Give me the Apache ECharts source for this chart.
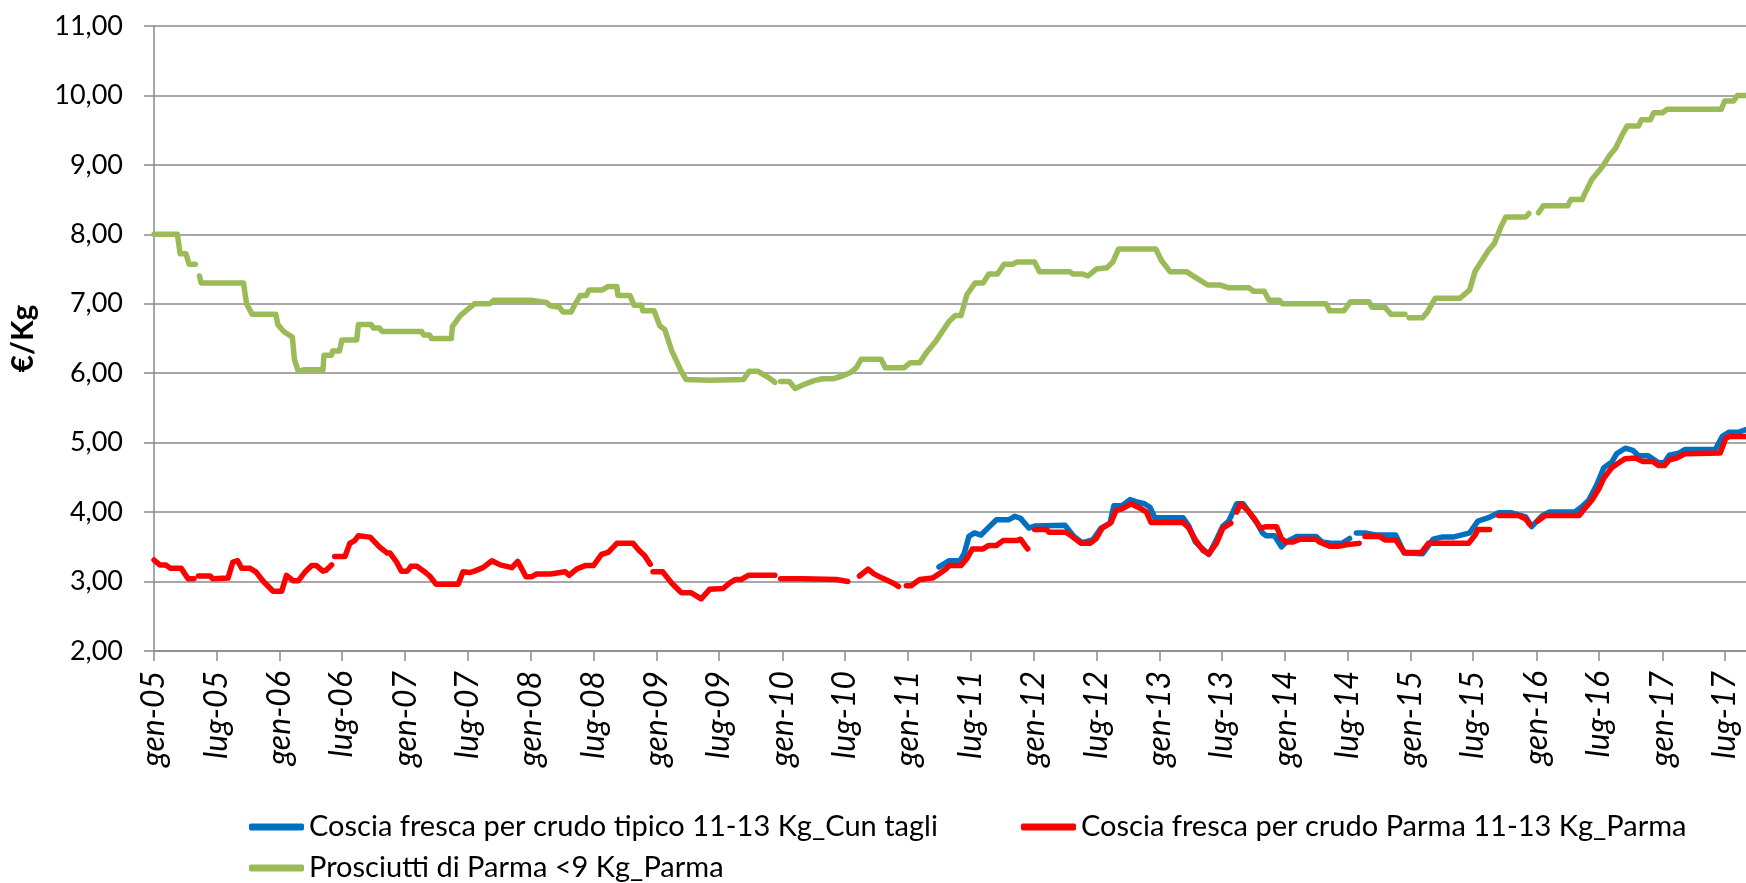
<!DOCTYPE html>
<html>
<head>
<meta charset="utf-8">
<title>Prezzi cosce e prosciutti</title>
<script src="https://cdn.jsdelivr.net/npm/echarts@6/dist/echarts.min.js"></script>
<style>
  html, body { margin: 0; padding: 0; background: #fff; }
  #chart { width: 1746px; height: 883px; }
</style>
</head>
<body>
<div id="chart"></div>
<script>
// nomi delle serie
const nameCun = "Coscia fresca per crudo tipico 11-13 Kg_Cun tagli";
const nameParma = "Coscia fresca per crudo Parma 11-13 Kg_Parma";
const nameProsc = "Prosciutti di Parma <9 Kg_Parma";

// tick dell'asse x (gen / lug di ogni anno)
const tickDates = [
  "2005-01-01", "2005-07-01", "2006-01-01", "2006-07-01", "2007-01-01", "2007-07-01",
  "2008-01-01", "2008-07-01", "2009-01-01", "2009-07-01", "2010-01-01", "2010-07-01",
  "2011-01-01", "2011-07-01", "2012-01-01", "2012-07-01", "2013-01-01", "2013-07-01",
  "2014-01-01", "2014-07-01", "2015-01-01", "2015-07-01", "2016-01-01", "2016-07-01",
  "2017-01-01", "2017-07-01"
];
const tickLabels = [
  "gen-05", "lug-05", "gen-06", "lug-06", "gen-07", "lug-07",
  "gen-08", "lug-08", "gen-09", "lug-09", "gen-10", "lug-10",
  "gen-11", "lug-11", "gen-12", "lug-12", "gen-13", "lug-13",
  "gen-14", "lug-14", "gen-15", "lug-15", "gen-16", "lug-16",
  "gen-17", "lug-17"
];

// Coscia fresca Cun tagli (€/Kg)
const cunData = [
  ["2011-04-01", 3.21], ["2011-05-01", 3.30], ["2011-06-01", 3.30], ["2011-06-13", 3.40],
  ["2011-06-27", 3.65], ["2011-07-13", 3.70], ["2011-08-01", 3.67], ["2011-08-21", 3.77],
  ["2011-09-15", 3.89], ["2011-10-21", 3.89], ["2011-11-07", 3.94], ["2011-11-24", 3.91],
  ["2011-12-18", 3.77], ["2012-01-04", 3.80], ["2012-04-01", 3.81], ["2012-04-27", 3.65],
  ["2012-05-21", 3.56], ["2012-06-21", 3.60], ["2012-07-15", 3.77], ["2012-08-10", 3.84],
  ["2012-08-21", 4.09], ["2012-09-13", 4.09], ["2012-10-07", 4.18], ["2012-10-24", 4.15],
  ["2012-11-18", 4.12], ["2012-12-04", 4.07], ["2012-12-18", 3.92], ["2013-03-10", 3.92],
  ["2013-03-27", 3.80], ["2013-04-15", 3.57], ["2013-05-07", 3.47], ["2013-05-24", 3.39],
  ["2013-06-15", 3.60], ["2013-07-04", 3.80], ["2013-07-21", 3.87], ["2013-08-13", 4.12],
  ["2013-09-01", 4.12], ["2013-09-18", 4.00], ["2013-10-10", 3.85], ["2013-10-27", 3.70],
  ["2013-11-07", 3.66], ["2013-12-01", 3.66], ["2013-12-21", 3.50], ["2014-01-04", 3.57],
  ["2014-02-04", 3.65], ["2014-04-01", 3.65], ["2014-04-18", 3.57], ["2014-05-18", 3.55],
  ["2014-06-15", 3.55], ["2014-07-07", 3.62], ["2014-07-18", null], ["2014-07-27", 3.70],
  ["2014-08-21", 3.70], ["2014-09-21", 3.67], ["2014-11-18", 3.67], ["2014-12-13", 3.41],
  ["2015-02-04", 3.40], ["2015-03-07", 3.61], ["2015-04-01", 3.64], ["2015-05-04", 3.64],
  ["2015-06-21", 3.70], ["2015-07-15", 3.87], ["2015-08-15", 3.92], ["2015-09-13", 3.99],
  ["2015-10-21", 3.99], ["2015-11-10", 3.96], ["2015-12-01", 3.93], ["2015-12-18", 3.79],
  ["2016-01-18", 3.95], ["2016-02-07", 4.00], ["2016-04-21", 4.00], ["2016-05-13", 4.08],
  ["2016-06-01", 4.17], ["2016-06-24", 4.39], ["2016-07-15", 4.64], ["2016-08-07", 4.72],
  ["2016-08-21", 4.84], ["2016-09-15", 4.92], ["2016-10-07", 4.89], ["2016-10-24", 4.81],
  ["2016-11-21", 4.81], ["2016-12-21", 4.71], ["2017-01-07", 4.71], ["2017-01-21", 4.82],
  ["2017-02-18", 4.85], ["2017-03-07", 4.90], ["2017-06-04", 4.90], ["2017-06-24", 5.09],
  ["2017-07-13", 5.15], ["2017-08-10", 5.15], ["2017-09-01", 5.19]
];

// Coscia fresca Parma (€/Kg)
const parmaData = [
  ["2005-01-01", 3.31], ["2005-01-18", 3.24], ["2005-02-04", 3.24], ["2005-02-18", 3.19],
  ["2005-03-21", 3.19], ["2005-04-10", 3.04], ["2005-04-27", 3.04], ["2005-05-04", null],
  ["2005-05-10", 3.08], ["2005-06-13", 3.08], ["2005-06-21", 3.04], ["2005-08-04", 3.05],
  ["2005-08-18", 3.28], ["2005-09-01", 3.30], ["2005-09-13", 3.19], ["2005-10-07", 3.19],
  ["2005-10-24", 3.14], ["2005-11-15", 3.00], ["2005-12-13", 2.86], ["2006-01-07", 2.86],
  ["2006-01-21", 3.09], ["2006-02-10", 3.01], ["2006-02-24", 3.01], ["2006-03-18", 3.15],
  ["2006-04-04", 3.23], ["2006-04-18", 3.23], ["2006-05-07", 3.15], ["2006-05-15", 3.16],
  ["2006-06-01", 3.24], ["2006-06-05", null], ["2006-06-10", 3.36], ["2006-07-10", 3.36],
  ["2006-07-24", 3.55], ["2006-08-07", 3.59], ["2006-08-18", 3.66], ["2006-09-21", 3.64],
  ["2006-10-18", 3.50], ["2006-11-10", 3.41], ["2006-11-18", 3.41], ["2006-12-07", 3.28],
  ["2006-12-21", 3.15], ["2007-01-07", 3.15], ["2007-01-18", 3.22], ["2007-02-04", 3.22],
  ["2007-02-24", 3.15], ["2007-03-13", 3.08], ["2007-04-01", 2.96], ["2007-06-04", 2.96],
  ["2007-06-18", 3.14], ["2007-07-07", 3.13], ["2007-07-21", 3.15], ["2007-08-15", 3.20],
  ["2007-09-10", 3.30], ["2007-10-04", 3.24], ["2007-11-07", 3.20], ["2007-11-24", 3.29],
  ["2007-12-18", 3.07], ["2008-01-04", 3.07], ["2008-01-18", 3.11], ["2008-02-27", 3.11],
  ["2008-04-10", 3.14], ["2008-04-21", 3.09], ["2008-05-13", 3.18], ["2008-06-07", 3.23],
  ["2008-07-01", 3.23], ["2008-07-24", 3.39], ["2008-08-13", 3.42], ["2008-09-07", 3.55],
  ["2008-10-24", 3.55], ["2008-11-10", 3.45], ["2008-11-27", 3.37], ["2008-12-13", 3.25],
  ["2008-12-17", null], ["2008-12-21", 3.14], ["2009-01-18", 3.14], ["2009-02-13", 2.98],
  ["2009-03-13", 2.84], ["2009-04-10", 2.84], ["2009-05-10", 2.75], ["2009-06-04", 2.89],
  ["2009-07-13", 2.90], ["2009-08-01", 2.98], ["2009-08-18", 3.03], ["2009-09-04", 3.03],
  ["2009-09-24", 3.09], ["2009-12-10", 3.09], ["2009-12-20", null], ["2009-12-27", 3.04],
  ["2010-03-01", 3.04], ["2010-06-07", 3.03], ["2010-07-10", 3.00], ["2010-07-25", null],
  ["2010-08-13", 3.08], ["2010-09-07", 3.18], ["2010-09-24", 3.11], ["2010-10-18", 3.05],
  ["2010-11-18", 2.98], ["2010-12-04", 2.93], ["2010-12-15", null], ["2010-12-27", 2.94],
  ["2011-01-10", 2.94], ["2011-02-04", 3.03], ["2011-03-13", 3.05], ["2011-04-01", 3.11],
  ["2011-04-21", 3.18], ["2011-05-01", 3.23], ["2011-06-04", 3.23], ["2011-06-21", 3.33],
  ["2011-07-07", 3.47], ["2011-08-07", 3.47], ["2011-08-24", 3.52], ["2011-09-15", 3.52],
  ["2011-10-04", 3.59], ["2011-11-13", 3.59], ["2011-11-24", 3.61], ["2011-12-07", 3.52],
  ["2011-12-15", 3.47], ["2011-12-24", null], ["2012-01-04", 3.75], ["2012-02-07", 3.75],
  ["2012-02-15", 3.71], ["2012-04-04", 3.71], ["2012-04-24", 3.64], ["2012-05-18", 3.55],
  ["2012-06-13", 3.55], ["2012-07-01", 3.62], ["2012-07-18", 3.77], ["2012-08-13", 3.85],
  ["2012-08-27", 4.02], ["2012-09-15", 4.05], ["2012-10-10", 4.12], ["2012-11-04", 4.06],
  ["2012-11-24", 4.00], ["2012-12-07", 3.85], ["2013-03-10", 3.85], ["2013-03-27", 3.77],
  ["2013-04-15", 3.60], ["2013-05-07", 3.45], ["2013-05-24", 3.40], ["2013-06-15", 3.55],
  ["2013-07-04", 3.77], ["2013-07-27", 3.84], ["2013-08-02", null], ["2013-08-13", 4.00],
  ["2013-08-24", 4.12], ["2013-09-15", 4.02], ["2013-10-04", 3.90], ["2013-10-21", 3.77],
  ["2013-11-07", 3.79], ["2013-12-07", 3.79], ["2013-12-21", 3.62], ["2014-01-04", 3.57],
  ["2014-01-24", 3.57], ["2014-02-13", 3.61], ["2014-04-01", 3.61], ["2014-04-10", 3.57],
  ["2014-05-10", 3.51], ["2014-06-07", 3.51], ["2014-06-27", 3.53], ["2014-08-04", 3.55],
  ["2014-08-12", null], ["2014-08-21", 3.65], ["2014-10-01", 3.65], ["2014-10-18", 3.60],
  ["2014-11-18", 3.60], ["2014-12-13", 3.42], ["2015-02-01", 3.42], ["2015-02-21", 3.55],
  ["2015-06-18", 3.55], ["2015-07-07", 3.67], ["2015-07-15", 3.75], ["2015-08-18", 3.75],
  ["2015-09-01", null], ["2015-09-13", 3.95], ["2015-11-10", 3.95], ["2015-12-01", 3.90],
  ["2015-12-13", 3.82], ["2015-12-20", null], ["2016-01-04", 3.87], ["2016-01-27", 3.95],
  ["2016-05-04", 3.95], ["2016-05-15", 4.02], ["2016-06-10", 4.17], ["2016-07-01", 4.34],
  ["2016-07-15", 4.49], ["2016-08-07", 4.64], ["2016-08-21", 4.69], ["2016-09-15", 4.77],
  ["2016-10-15", 4.78], ["2016-11-04", 4.73], ["2016-12-04", 4.73], ["2016-12-21", 4.67],
  ["2017-01-07", 4.67], ["2017-01-21", 4.75], ["2017-02-13", 4.78], ["2017-03-07", 4.84],
  ["2017-06-18", 4.85], ["2017-07-04", 5.06], ["2017-07-15", 5.09], ["2017-09-01", 5.09]
];

// Prosciutti di Parma <9 Kg (€/Kg)
const proscData = [
  ["2005-01-01", 8.00], ["2005-03-10", 8.00], ["2005-03-18", 7.72], ["2005-04-04", 7.72],
  ["2005-04-13", 7.57], ["2005-05-01", 7.57], ["2005-05-06", null], ["2005-05-13", 7.40],
  ["2005-05-18", 7.30], ["2005-09-18", 7.30], ["2005-09-27", 7.00], ["2005-10-13", 6.85],
  ["2005-12-21", 6.85], ["2005-12-27", 6.70], ["2006-01-13", 6.60], ["2006-02-07", 6.52],
  ["2006-02-13", 6.20], ["2006-02-24", 6.03], ["2006-03-15", 6.05], ["2006-05-07", 6.05],
  ["2006-05-10", 6.26], ["2006-06-01", 6.26], ["2006-06-04", 6.32], ["2006-06-24", 6.32],
  ["2006-07-01", 6.48], ["2006-08-13", 6.48], ["2006-08-18", 6.70], ["2006-09-24", 6.70],
  ["2006-10-01", 6.65], ["2006-10-18", 6.65], ["2006-10-27", 6.60], ["2007-02-18", 6.60],
  ["2007-02-24", 6.55], ["2007-03-13", 6.55], ["2007-03-18", 6.50], ["2007-05-15", 6.50],
  ["2007-05-18", 6.67], ["2007-06-10", 6.83], ["2007-07-04", 6.93], ["2007-07-21", 7.00],
  ["2007-09-04", 7.00], ["2007-09-15", 7.05], ["2008-01-01", 7.05], ["2008-02-15", 7.02],
  ["2008-02-27", 6.97], ["2008-03-24", 6.95], ["2008-04-04", 6.88], ["2008-04-27", 6.88],
  ["2008-05-07", 6.98], ["2008-05-24", 7.12], ["2008-06-10", 7.12], ["2008-06-18", 7.20],
  ["2008-07-27", 7.20], ["2008-08-13", 7.25], ["2008-09-07", 7.25], ["2008-09-10", 7.12],
  ["2008-10-15", 7.12], ["2008-10-27", 6.98], ["2008-11-18", 6.98], ["2008-11-21", 6.90],
  ["2008-12-24", 6.90], ["2009-01-10", 6.68], ["2009-01-24", 6.63], ["2009-02-13", 6.33],
  ["2009-03-13", 6.03], ["2009-03-27", 5.91], ["2009-06-04", 5.90], ["2009-09-10", 5.91],
  ["2009-09-27", 6.03], ["2009-10-21", 6.03], ["2009-11-07", 5.98], ["2009-11-24", 5.93],
  ["2009-12-10", 5.87], ["2009-12-20", null], ["2009-12-27", 5.88], ["2010-01-21", 5.88],
  ["2010-02-07", 5.78], ["2010-03-01", 5.83], ["2010-04-01", 5.89], ["2010-04-27", 5.92],
  ["2010-05-27", 5.92], ["2010-06-24", 5.96], ["2010-07-18", 6.01], ["2010-08-04", 6.08],
  ["2010-08-18", 6.20], ["2010-10-15", 6.20], ["2010-10-27", 6.08], ["2010-12-21", 6.08],
  ["2011-01-07", 6.15], ["2011-02-04", 6.15], ["2011-02-24", 6.30], ["2011-03-21", 6.45],
  ["2011-05-01", 6.75], ["2011-05-18", 6.83], ["2011-06-04", 6.83], ["2011-06-21", 7.13],
  ["2011-07-15", 7.30], ["2011-08-07", 7.30], ["2011-08-24", 7.43], ["2011-09-18", 7.43],
  ["2011-10-07", 7.57], ["2011-11-01", 7.57], ["2011-11-13", 7.60], ["2012-01-04", 7.60],
  ["2012-01-18", 7.46], ["2012-04-15", 7.46], ["2012-04-24", 7.43], ["2012-05-21", 7.43],
  ["2012-06-07", 7.40], ["2012-07-01", 7.50], ["2012-08-01", 7.52], ["2012-08-18", 7.60],
  ["2012-09-04", 7.79], ["2012-12-21", 7.79], ["2013-01-07", 7.62], ["2013-02-01", 7.46],
  ["2013-03-21", 7.46], ["2013-04-15", 7.38], ["2013-05-21", 7.27], ["2013-06-27", 7.27],
  ["2013-07-21", 7.23], ["2013-09-18", 7.23], ["2013-10-01", 7.18], ["2013-11-01", 7.18],
  ["2013-11-15", 7.05], ["2013-12-15", 7.05], ["2013-12-24", 7.00], ["2014-04-30", 7.00],
  ["2014-05-10", 6.90], ["2014-06-21", 6.90], ["2014-07-10", 7.03], ["2014-09-01", 7.03],
  ["2014-09-10", 6.95], ["2014-10-18", 6.95], ["2014-11-04", 6.85], ["2014-12-15", 6.85],
  ["2014-12-22", null], ["2014-12-27", 6.80], ["2015-02-04", 6.80], ["2015-02-18", 6.88],
  ["2015-03-13", 7.08], ["2015-05-24", 7.08], ["2015-06-21", 7.20], ["2015-07-07", 7.47],
  ["2015-07-24", 7.60], ["2015-08-15", 7.77], ["2015-09-01", 7.87], ["2015-09-21", 8.12],
  ["2015-10-04", 8.25], ["2015-12-01", 8.25], ["2015-12-10", 8.30], ["2015-12-20", null],
  ["2016-01-07", 8.31], ["2016-01-21", 8.41], ["2016-04-01", 8.41], ["2016-04-10", 8.50],
  ["2016-05-13", 8.50], ["2016-05-21", 8.59], ["2016-06-10", 8.79], ["2016-07-10", 8.97],
  ["2016-08-01", 9.14], ["2016-08-18", 9.24], ["2016-09-07", 9.44], ["2016-09-21", 9.56],
  ["2016-10-24", 9.56], ["2016-11-01", 9.65], ["2016-11-27", 9.65], ["2016-12-07", 9.75],
  ["2017-01-01", 9.75], ["2017-01-15", 9.80], ["2017-06-21", 9.80], ["2017-07-01", 9.92],
  ["2017-07-27", 9.92], ["2017-08-07", 10.00], ["2017-09-01", 10.00]
];

const fontFamily = "Lato, 'Open Sans', sans-serif";
const gridColor = "#8a8a8a";

// data "AAAA-MM-GG" -> timestamp (ora locale)
function toTime(s) {
  const p = s.split("-");
  return new Date(+p[0], +p[1] - 1, +p[2]).getTime();
}
function toPoints(rows) {
  return rows.map(function (r) {
    return [toTime(r[0]), r[1]];
  });
}
const tickTimes = tickDates.map(toTime);

const chart = echarts.init(document.getElementById("chart"));

function lineSeries(name, color, rows) {
  return {
    name: name,
    type: "line",
    data: toPoints(rows),
    showSymbol: false,
    symbol: "none",
    connectNulls: false,
    lineStyle: { color: color, width: 5.5, cap: "round", join: "round" },
    itemStyle: { color: color },
  };
}

function legendFor(name, left, top) {
  return {
    data: [name],
    left: left,
    top: top,
    orient: "horizontal",
    selectedMode: false,
    icon: "roundRect",
    itemWidth: 55,
    itemHeight: 7,
    padding: 0,
    textStyle: { fontFamily: fontFamily, fontSize: 29, color: "#000", lineHeight: 34 },
  };
}

const option = {
  animation: false,
  backgroundColor: "#fff",
  grid: { left: 154, right: 0, top: 26, bottom: 232, containLabel: false },
  legend: [
    legendFor(nameCun, 249, 810),
    legendFor(nameParma, 1021, 810),
    legendFor(nameProsc, 249, 851),
  ],
  xAxis: {
    type: "value",
    min: toTime("2005-01-01"),
    max: toTime("2017-09-01"),
    axisLine: { show: true, lineStyle: { color: gridColor, width: 1.5 } },
    axisTick: { show: true, length: 10, customValues: tickTimes, lineStyle: { color: gridColor, width: 1.5 } },
    splitLine: { show: false },
    axisLabel: {
      customValues: tickTimes,
      rotate: 90,
      margin: 20,
      fontFamily: fontFamily,
      fontStyle: "italic",
      fontSize: 32,
      color: "#000",
      showMinLabel: true,
      showMaxLabel: true,
      formatter: function (value) {
        const i = tickTimes.indexOf(value);
        return i >= 0 ? tickLabels[i] : "";
      },
    },
  },
  yAxis: {
    type: "value",
    min: 2,
    max: 11,
    interval: 1,
    name: "€/Kg",
    nameLocation: "middle",
    nameRotate: 90,
    nameGap: 116,
    nameTextStyle: { fontFamily: fontFamily, fontSize: 30, fontWeight: "bold", color: "#000" },
    axisLine: { show: true, lineStyle: { color: gridColor, width: 1.5 } },
    axisTick: { show: true, length: 10, lineStyle: { color: gridColor, width: 1.5 } },
    splitLine: { show: true, lineStyle: { color: gridColor, width: 1.5 } },
    axisLabel: {
      margin: 31,
      fontFamily: fontFamily,
      fontSize: 27,
      color: "#000",
      formatter: function (v) {
        return v.toFixed(2).replace(".", ",");
      },
    },
  },
  series: [
    lineSeries(nameCun, "#0070C0", cunData),
    lineSeries(nameParma, "#FF0000", parmaData),
    lineSeries(nameProsc, "#9BBB59", proscData),
  ],
};

chart.setOption(option);
</script>
</body>
</html>
